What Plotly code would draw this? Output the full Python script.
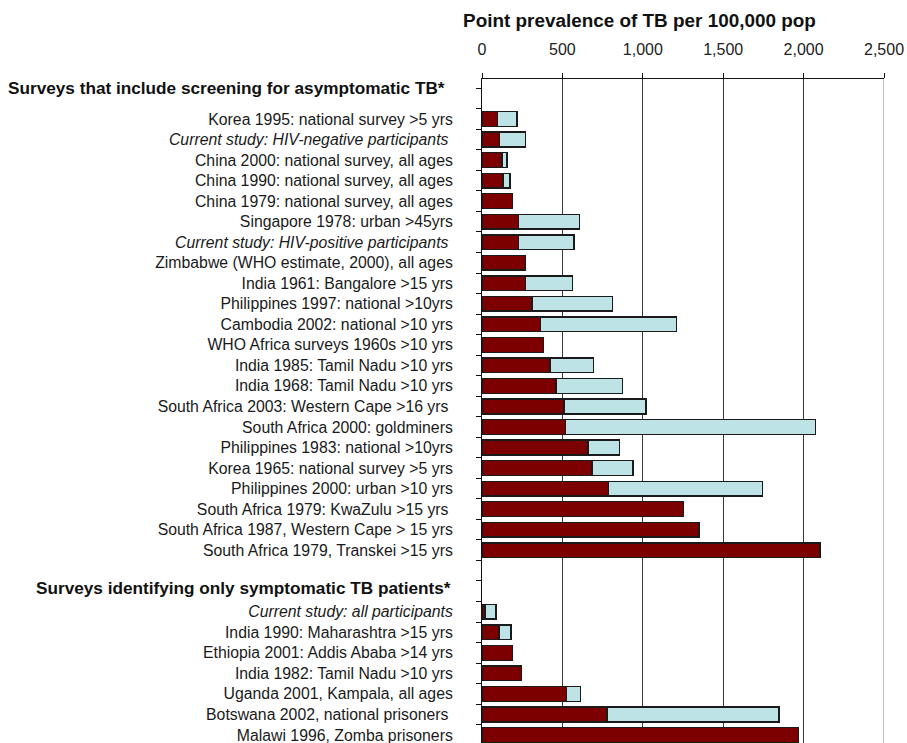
import plotly.graph_objects as go

# Row labels, top to bottom
header1 = "Surveys that include screening for asymptomatic TB*"
header2 = "Surveys identifying only symptomatic TB patients*"
blank = " "

surveys = [
    header1,
    "Korea 1995: national survey >5 yrs",
    "Current study: HIV-negative participants",
    "China 2000: national survey, all ages",
    "China 1990: national survey, all ages",
    "China 1979: national survey, all ages",
    "Singapore 1978: urban >45yrs",
    "Current study: HIV-positive participants",
    "Zimbabwe (WHO estimate, 2000), all ages",
    "India 1961: Bangalore >15 yrs",
    "Philippines 1997: national >10yrs",
    "Cambodia 2002: national >10 yrs",
    "WHO Africa surveys 1960s >10 yrs",
    "India 1985: Tamil Nadu >10 yrs",
    "India 1968: Tamil Nadu >10 yrs",
    "South Africa 2003: Western Cape >16 yrs",
    "South Africa 2000: goldminers",
    "Philippines 1983: national >10yrs",
    "Korea 1965: national survey >5 yrs",
    "Philippines 2000: urban >10 yrs",
    "South Africa 1979: KwaZulu >15 yrs",
    "South Africa 1987, Western Cape > 15 yrs",
    "South Africa 1979, Transkei >15 yrs",
    blank,
    header2,
    "Current study: all participants",
    "India 1990: Maharashtra >15 yrs",
    "Ethiopia 2001: Addis Ababa >14 yrs",
    "India 1982: Tamil Nadu >10 yrs",
    "Uganda 2001, Kampala, all ages",
    "Botswana 2002, national prisoners",
    "Malawi 1996, Zomba prisoners",
]

# Dark red segment (per 100,000)
smear_positive = [
    None,
    97, 107, 124, 130, 190, 227, 227, 271, 271, 312, 364, 384, 424, 461,
    510, 521, 659, 684, 787, 1254, 1349, 2101,
    None, None,
    19, 105, 190, 244, 527, 777, 1969,
]

# Light blue segment (additional prevalence on top of the red one; None = no segment)
additional = [
    None,
    120, 162, 31, 44, None, 378, 345, None, 291, 500, 847, None, 268, 411,
    511, 1553, 196, 256, 959, None, None, None,
    None, None,
    68, 75, None, None, 85, 1070, None,
]

x_ticks = [0, 500, 1000, 1500, 2000, 2500]

italic_rows = {
    "Current study: HIV-negative participants",
    "Current study: HIV-positive participants",
    "Current study: all participants",
}
trailing_space_rows = {
    "Current study: HIV-negative participants",
    "Current study: HIV-positive participants",
    "South Africa 2003: Western Cape >16 yrs",
    "South Africa 1979: KwaZulu >15 yrs",
    "Botswana 2002, national prisoners",
}

tick_text = []
for s in surveys:
    if s in (header1, header2, blank):
        tick_text.append("")
        continue
    t = s + ("\u00a0" if s in trailing_space_rows else "")
    if s in italic_rows:
        t = "<i>" + t + "</i>"
    tick_text.append(t)

FONT = "Liberation Sans, Arial, Helvetica, sans-serif"
RED = "#7d0000"
BLUE = "#bde3e6"
EDGE = "#1a1a1a"

fig = go.Figure()
fig.add_trace(go.Bar(
    y=surveys, x=smear_positive, orientation="h",
    marker=dict(color=RED, line=dict(color=EDGE, width=1.4)),
    hoverinfo="x+y", showlegend=False,
))
fig.add_trace(go.Bar(
    y=surveys, x=additional, orientation="h",
    marker=dict(color=BLUE, line=dict(color=EDGE, width=1.4)),
    hoverinfo="x+y", showlegend=False,
))

n = len(surveys)
fig.update_layout(
    width=907, height=743,
    margin=dict(l=482, r=23, t=79, b=0, autoexpand=False),
    paper_bgcolor="white", plot_bgcolor="white",
    barmode="stack", bargap=0.284,
    font=dict(family=FONT, color="#1a1a1a"),
    title=dict(
        text="<b>Point prevalence of TB per 100,000 pop</b>",
        font=dict(family=FONT, size=18.9, color="#111"),
        x=0.705, xanchor="center", xref="container",
        y=0.973, yanchor="middle", yref="container",
    ),
    xaxis=dict(
        side="top", range=[0, 2500], tickvals=x_ticks, tickformat=",",
        ticks="outside", ticklen=5, tickcolor="#111", tickwidth=1,
        showline=True, linecolor="#111", linewidth=1,
        showgrid=True, gridcolor="#3a3a3a", gridwidth=1,
        zeroline=False, tickfont=dict(size=16, color="#222"),
        ticklabelstandoff=12, fixedrange=True,
    ),
    yaxis=dict(
        type="category", categoryorder="array", categoryarray=surveys,
        tickvals=surveys, ticktext=tick_text,
        range=[n - 1 + 0.39, -0.948],
        tickson="boundaries", ticks="outside", ticklen=5,
        tickcolor="#111", tickwidth=1,
        showline=True, linecolor="#111", linewidth=1,
        showgrid=False, zeroline=False,
        tickfont=dict(size=15.8, color="#1a1a1a"),
        ticklabelstandoff=25, fixedrange=True,
    ),
)

# Right edge gridline at the last tick (lighter grey, as in the reference)
fig.add_shape(
    type="line", xref="x", yref="paper",
    x0=x_ticks[-1], x1=x_ticks[-1], y0=0, y1=1,
    line=dict(color="#9a9a9a", width=1.2), layer="below",
)

fig.add_annotation(
    text="<b>" + header1 + "</b>", xref="paper", x=0, xanchor="right",
    xshift=-35, yref="y", y=header1, yshift=10, showarrow=False,
    font=dict(family=FONT, size=17.2, color="#111"),
)
fig.add_annotation(
    text="<b>" + header2 + "</b>", xref="paper", x=0, xanchor="right",
    xshift=-29, yref="y", y=header2, yshift=3, showarrow=False,
    font=dict(family=FONT, size=17.2, color="#111"),
)

fig.write_html(
    "out.html",
    config={"displayModeBar": False},
    post_script="document.body.style.margin='0';document.body.style.overflow='hidden';",
)
